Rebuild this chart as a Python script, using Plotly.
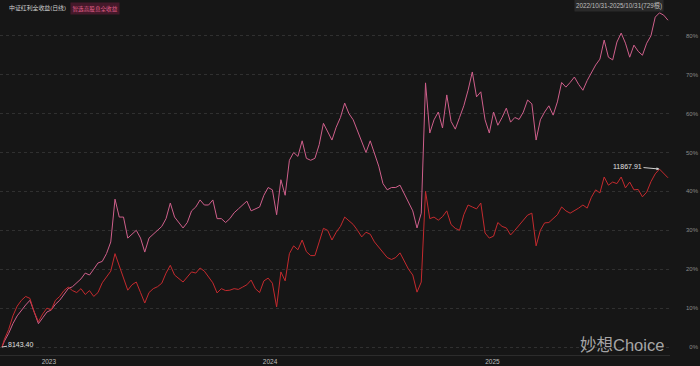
import pandas as pd
import plotly.graph_objects as go

# ---- data ----
dates = ['2022-10-31'] + list(pd.date_range('2022-11-04', '2025-10-31', freq='W-FRI').strftime('%Y-%m-%d'))

dividend_tr = [0,
    2, 4.5, 8, 10.5, 12, 13, 12.5, 9, 6.5, 8.5,
    10, 9.5, 12, 13, 14.5, 15.4, 14.5, 14, 15, 13.5,
    14.5, 13, 14, 16.5, 18, 19.5, 24, 21, 18, 14.6,
    16, 16.7, 14, 11.3, 14, 15, 15.5, 16.4, 19, 21,
    18.5, 17.5, 16.7, 18, 19.3, 19, 20.3, 19.5, 18, 16.5,
    13.9, 15, 14.5, 14.6, 15, 14.8, 15.4, 16, 17.2, 15,
    14, 17, 17.7, 16.4, 10.3, 19.3, 17, 24, 26, 25,
    27.5, 24.5, 23.5, 23.5, 27, 30.5, 30, 27.5, 29.5, 31,
    33.4, 32.5, 31.5, 30, 28.3, 29.5, 29, 27, 25.7, 24.5,
    23, 22.5, 23, 24.2, 22, 20, 18.5, 14.1, 16.7, 40,
    33, 33.4, 32.6, 33.5, 35, 31.5, 30.5, 30, 34, 36.5,
    36, 35.5, 37, 29.3, 28, 28.5, 32, 31, 30.6, 28.8,
    30, 31.4, 32.5, 33.9, 34.4, 26, 30, 31.9, 32, 33,
    34, 36, 35, 34.4, 35, 35.7, 36.5, 35.7, 38.5, 40.4,
    39.6, 43.7, 41.6, 42.4, 42, 43.7, 40.9, 42.4, 40.4, 40.5,
    38.6, 39.8, 42.5, 44.5, 45.74, 44.5, 43.5]

high_div_tr = [0,
    1.5, 3.5, 6, 8, 9.5, 10.8, 12, 9, 6, 7.5,
    9, 9.5, 11, 12, 13.5, 15, 15.5, 16.5, 17.5, 19,
    18.5, 20, 21.6, 22, 24, 27, 38, 33.4, 33.4, 28,
    29, 30, 28, 24.4, 28, 29, 30, 31, 33, 37,
    33.4, 32, 30.6, 32, 35, 36, 37.8, 36.5, 36.5, 37.8,
    33, 33, 32, 33, 34.5, 35.5, 36.5, 37.5, 35, 35.5,
    36, 39, 41, 40.4, 34, 43, 39, 48, 50, 49,
    53, 48.5, 48, 48.5, 52, 57.5, 55.5, 53.2, 56.5, 59,
    62.7, 60, 58.4, 55.5, 53, 50, 53, 50, 46.5, 42,
    40.4, 41, 41, 41.6, 39.5, 37, 35, 30.6, 34.4, 67.9,
    55, 58.4, 60.4, 56.3, 64.8, 58, 56, 59, 62, 66,
    70.7, 64.3, 65.6, 58.4, 55, 60.4, 57, 59, 61.4, 57.8,
    59, 58.5, 60.4, 63.5, 62.5, 53.2, 58.4, 60.4, 62, 59.6,
    63, 68, 66.8, 68, 69.4, 67.5, 66, 68.5, 70.7, 72.5,
    74, 78.9, 74.5, 73.8, 78.4, 80.7, 78.1, 74.5, 77.6, 76,
    75, 78.1, 80, 84.8, 85.9, 85.3, 84]

start_close = 8143.40
max_close = 11867.91
y_ticks = [0, 10, 20, 30, 40, 50, 60, 70, 80]
y_ticktext = ['\u2007' + f'{v}%' if v < 10 else f'{v}%' for v in y_ticks]
x_ticks = ['2023-01-03', '2024-01-02', '2025-01-02']
x_ticktext = ['2023', '2024', '2025']

n = min(len(dates), len(dividend_tr), len(high_div_tr))
dates, dividend_tr, high_div_tr = dates[:n], dividend_tr[:n], high_div_tr[:n]

BG = '#161616'
PINK = '#cf5f8b'
RED = '#c42a2e'
FONT = "Arial, 'Liberation Sans', 'Noto Sans CJK SC', sans-serif"

fig = go.Figure()
fig.add_trace(go.Scatter(x=dates, y=high_div_tr, mode='lines',
                         line=dict(color=PINK, width=1), name='智选高股息全收益'))
fig.add_trace(go.Scatter(x=dates, y=dividend_tr, mode='lines',
                         line=dict(color=RED, width=1), name='中证红利全收益'))

imax = max(range(n), key=lambda i: dividend_tr[i])
imin = min(range(n), key=lambda i: dividend_tr[i])

anns = [
    dict(x=dates[imax], y=dividend_tr[imax], text=f'{max_close:.2f}', showarrow=True,
         ax=-32, ay=-3, arrowhead=2, arrowsize=0.6, arrowwidth=1, arrowcolor='#d0d0d0',
         font=dict(size=7, color='#e0e0e0', family=FONT)),
    dict(x=dates[imin], y=dividend_tr[imin], text=f'{start_close:.2f}', showarrow=True,
         ax=19, ay=-3, arrowhead=0, arrowwidth=1, arrowcolor='#d0d0d0',
         font=dict(size=7, color='#e0e0e0', family=FONT)),
    dict(xref='paper', yref='paper', x=7 / 670, y=(355 - 8) / 345, xanchor='left', yanchor='middle',
         text='中证红利全收益(日线)', showarrow=False,
         font=dict(size=5.9, color='#d0d0d0', family=FONT)),
    dict(xref='paper', yref='paper', x=70 / 670, y=(355 - 8) / 345, xanchor='left', yanchor='middle',
         text='智选高股息全收益', showarrow=False, bgcolor='#44192a', borderpad=1.5,
         font=dict(size=5.6, color='#e0608a', family=FONT)),
    dict(xref='paper', yref='paper', x=664 / 670, y=(355 - 6) / 345, xanchor='right', yanchor='middle',
         text='2022/10/31-2025/10/31(729根)', showarrow=False, bgcolor='#2a2a2a', borderpad=1,
         font=dict(size=6.3, color='#bdbdbd', family=FONT)),
    dict(xref='paper', yref='paper', x=578 / 670, y=(355 - 345) / 345, xanchor='left', yanchor='middle',
         text='妙想Choice', showarrow=False,
         font=dict(size=16.5, color='rgba(205,205,205,0.8)', family=FONT)),
]

fig.update_layout(
    width=700, height=366,
    margin=dict(l=0, r=30, t=10, b=11),
    paper_bgcolor=BG, plot_bgcolor=BG,
    showlegend=False, hovermode=False,
    annotations=anns,
    xaxis=dict(type='date', range=['2022-10-27 18:00', '2025-11-03 08:00'],
               tickvals=x_ticks, ticktext=x_ticktext, ticklabelshift=8,
               tickfont=dict(size=6.5, color='#bdbdbd', family=FONT),
               showgrid=False, zeroline=False, showline=True, linecolor='#2c2c2c', linewidth=1,
               ticks=''),
    yaxis=dict(side='right', range=[-2.057, 86.63], tickvals=y_ticks, ticktext=y_ticktext,
               tickfont=dict(size=6, color='#8a8a8a', family=FONT), ticklabelstandoff=15,
               showgrid=True, gridcolor='#303030', griddash='dot', gridwidth=1,
               zeroline=False, showline=False, ticks=''),
)

fig.write_html('out.html',
               config={'displayModeBar': False, 'staticPlot': True},
               post_script="document.body.style.margin='0';document.body.style.padding='0';"
                           "document.body.style.background='#161616';"
                           "document.body.style.overflow='hidden';")
